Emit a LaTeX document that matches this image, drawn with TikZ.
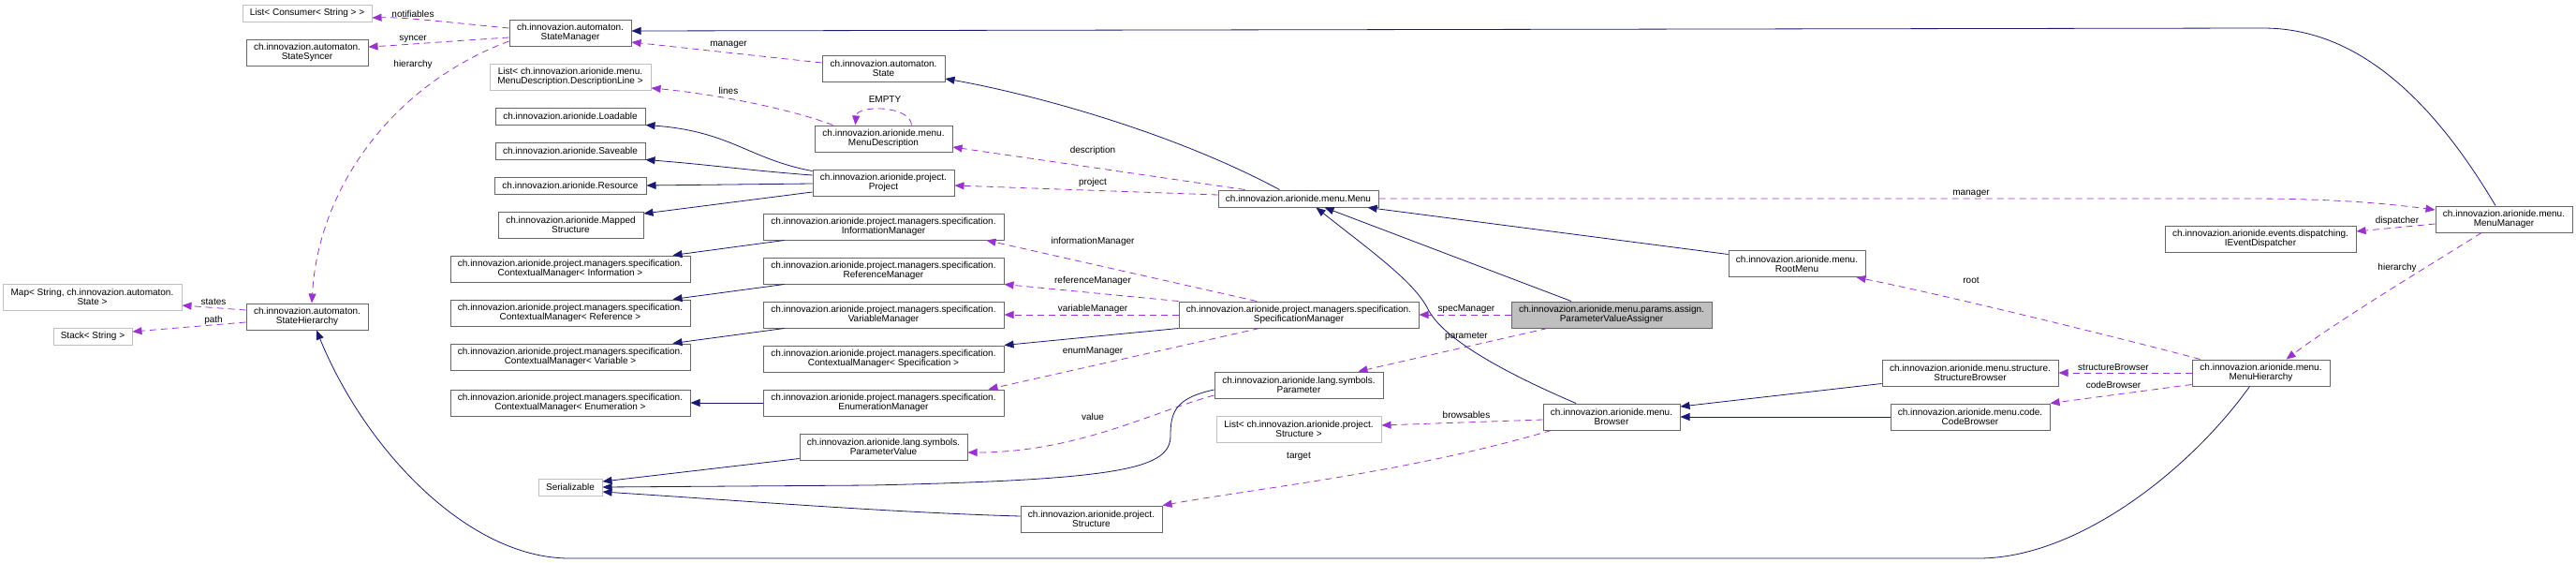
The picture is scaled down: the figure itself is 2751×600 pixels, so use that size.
\documentclass[tikz,border=0pt]{standalone}
\usepackage{fontspec}
\setmainfont{Liberation Sans}
\usetikzlibrary{arrows.meta,calc}
\definecolor{dxnavy}{HTML}{191970}
\definecolor{dxpurple}{HTML}{9A32CD}
\definecolor{dxborder}{HTML}{666666}
\definecolor{dxlight}{HTML}{BFBFBF}
\begin{document}
\begin{tikzpicture}[x=1pt,y=-1pt,
  cls/.style={draw=dxborder, line width=1pt, fill=white, inner sep=0pt, align=center, font=\fontsize{10}{10}\selectfont},
  ext/.style={cls, draw=dxlight},
  focus/.style={cls, fill=dxlight},
  inh/.style={draw=dxnavy, line width=0.8pt, -{Triangle[length=10pt,width=8pt]}},
  use/.style={draw=dxpurple, line width=0.8pt, dash pattern=on 7pt off 5pt, -{Triangle[length=10pt,width=8pt]}},
  lbl/.style={inner sep=0pt, font=\fontsize{10}{10}\selectfont}]
\fill[white] (0,0) rectangle (2751,600);
\useasboundingbox (0,0) rectangle (2751,600);

% ---------- nodes ----------
\node[ext, minimum width=138, minimum height=18] (lcons) at (328,14) {List< Consumer< String > >};
\node[cls, minimum width=130, minimum height=28] (syncer) at (328,56) {ch.innovazion.automaton.\\StateSyncer};
\node[cls, minimum width=130, minimum height=28] (smgr) at (609,35) {ch.innovazion.automaton.\\StateManager};
\node[cls, minimum width=131, minimum height=28] (state) at (943.5,73) {ch.innovazion.automaton.\\State};
\node[ext, minimum width=191, minimum height=28] (map) at (98.5,317) {Map< String, ch.innovazion.automaton.\\State >};
\node[ext, minimum width=84, minimum height=18] (stack) at (99,359) {Stack< String >};
\node[cls, minimum width=130, minimum height=28] (shier) at (328,338) {ch.innovazion.automaton.\\StateHierarchy};
\node[ext, minimum width=172, minimum height=28] (ldesc) at (609,82) {List< ch.innovazion.arionide.menu.\\MenuDescription.DescriptionLine >};
\node[cls, minimum width=160, minimum height=18] (load) at (609,124) {ch.innovazion.arionide.Loadable};
\node[cls, minimum width=160, minimum height=18] (save) at (609,161) {ch.innovazion.arionide.Saveable};
\node[cls, minimum width=162, minimum height=18] (res) at (609,198) {ch.innovazion.arionide.Resource};
\node[cls, minimum width=155, minimum height=28] (mapped) at (609.5,240) {ch.innovazion.arionide.Mapped\\Structure};
\node[cls, minimum width=256, minimum height=28] (cmi) at (609,287) {ch.innovazion.arionide.project.managers.specification.\\ContextualManager< Information >};
\node[cls, minimum width=256, minimum height=28] (cmr) at (609,334) {ch.innovazion.arionide.project.managers.specification.\\ContextualManager< Reference >};
\node[cls, minimum width=256, minimum height=28] (cmv) at (609,381) {ch.innovazion.arionide.project.managers.specification.\\ContextualManager< Variable >};
\node[cls, minimum width=256, minimum height=28] (cme) at (609,430) {ch.innovazion.arionide.project.managers.specification.\\ContextualManager< Enumeration >};
\node[cls, minimum width=147, minimum height=28] (mdesc) at (943.5,148) {ch.innovazion.arionide.menu.\\MenuDescription};
\node[cls, minimum width=151, minimum height=28] (proj) at (943.5,195) {ch.innovazion.arionide.project.\\Project};
\node[cls, minimum width=257, minimum height=28] (im) at (943.5,242) {ch.innovazion.arionide.project.managers.specification.\\InformationManager};
\node[cls, minimum width=257, minimum height=28] (rm) at (943.5,289) {ch.innovazion.arionide.project.managers.specification.\\ReferenceManager};
\node[cls, minimum width=257, minimum height=28] (vm) at (943.5,336) {ch.innovazion.arionide.project.managers.specification.\\VariableManager};
\node[cls, minimum width=257, minimum height=28] (cms) at (943.5,383) {ch.innovazion.arionide.project.managers.specification.\\ContextualManager< Specification >};
\node[cls, minimum width=257, minimum height=28] (em) at (943.5,430) {ch.innovazion.arionide.project.managers.specification.\\EnumerationManager};
\node[cls, minimum width=179, minimum height=28] (pval) at (943.5,477) {ch.innovazion.arionide.lang.symbols.\\ParameterValue};
\node[ext, minimum width=68, minimum height=18] (ser) at (609,520) {Serializable};
\node[cls, minimum width=171, minimum height=18] (menu) at (1386.5,212) {ch.innovazion.arionide.menu.Menu};
\node[cls, minimum width=256, minimum height=28] (specm) at (1387,336) {ch.innovazion.arionide.project.managers.specification.\\SpecificationManager};
\node[cls, minimum width=180, minimum height=28] (param) at (1387,411) {ch.innovazion.arionide.lang.symbols.\\Parameter};
\node[ext, minimum width=176, minimum height=28] (lstruct) at (1387,458) {List< ch.innovazion.arionide.project.\\Structure >};
\node[cls, minimum width=151, minimum height=28] (struct) at (1165.5,554) {ch.innovazion.arionide.project.\\Structure};
\node[focus, minimum width=214, minimum height=28] (pva) at (1721,336) {ch.innovazion.arionide.menu.params.assign.\\ParameterValueAssigner};
\node[cls, minimum width=146, minimum height=28] (browser) at (1721,445) {ch.innovazion.arionide.menu.\\Browser};
\node[cls, minimum width=146, minimum height=28] (root) at (1919,281.5) {ch.innovazion.arionide.menu.\\RootMenu};
\node[cls, minimum width=188, minimum height=28] (sb) at (2104,398) {ch.innovazion.arionide.menu.structure.\\StructureBrowser};
\node[cls, minimum width=170, minimum height=28] (cb) at (2104,445) {ch.innovazion.arionide.menu.code.\\CodeBrowser};
\node[cls, minimum width=146, minimum height=28] (mm) at (2674,234) {ch.innovazion.arionide.menu.\\MenuManager};
\node[cls, minimum width=204, minimum height=28] (ied) at (2414,255) {ch.innovazion.arionide.events.dispatching.\\IEventDispatcher};
\node[cls, minimum width=147, minimum height=28] (mh) at (2414.5,398) {ch.innovazion.arionide.menu.\\MenuHierarchy};

% ---------- edges ----------
\draw[use] ($(smgr.west)+(0,-5)$) .. controls (480,24) and (430,18) .. ($(lcons.east)+(0,5)$);
\draw[use] ($(smgr.west)+(0,5)$) .. controls (480,44) and (430,48) .. ($(syncer.east)+(0,-6)$);
\draw[use] ($(smgr.west)+(0,9)$) .. controls (420,90) and (340,200) .. ($(shier.north)+(5,0)$);
\draw[use] ($(shier.west)+(0,-7)$) -- ($(map.east)+(0,9)$);
\draw[use] ($(shier.west)+(0,6)$) -- ($(stack.east)+(0,-5)$);
\draw[inh] ($(mh.south)+(-12,0)$) .. controls (2340,500) and (2220,596) .. (2113,596) -- (608,596) .. controls (500,596) and (390,480) .. ($(shier.south)+(10,0)$);
\draw[inh] ($(mm.north)+(-9,0)$) .. controls (2600,110) and (2520,30) .. (2417,30) -- ($(smgr.east)+(0,-2)$);
\draw[use] ($(state.west)+(0,-6)$) -- ($(smgr.east)+(0,10)$);
\draw[inh] ($(menu.north)+(-20,0)$) .. controls (1250,140) and (1100,100) .. ($(state.east)+(0,11)$);
\draw[use] ($(mdesc.north west)+(20,0)$) .. controls (840,115) and (760,100) .. ($(ldesc.east)+(0,12)$);
\draw[use] ($(mdesc.north)+(30,0)$) .. controls (972,112) and (915,112) .. ($(mdesc.north)+(-30,0)$);
\draw[use] ($(menu.north west)+(29,0)$) -- ($(mdesc.east)+(0,9)$);
\draw[use] ($(menu.west)+(0,-4)$) -- ($(proj.east)+(0,3)$);
\draw[inh] ($(proj.north west)+(0,2)$) .. controls (800,170) and (780,140) .. (load.south east);
\draw[inh] ($(proj.west)+(0,-8)$) .. controls (800,182) and (760,176) .. (save.south east);
\draw[inh] ($(proj.west)+(0,1)$) -- (res.east);
\draw[inh] ($(proj.west)+(0,10)$) -- ($(mapped.east)+(0,-12)$);
\draw[inh] ($(im.south west)+(23,0)$) -- ($(cmi.north east)+(-19,0)$);
\draw[inh] ($(rm.south west)+(23,0)$) -- ($(cmr.north east)+(-19,0)$);
\draw[inh] ($(vm.south west)+(23,0)$) -- ($(cmv.north east)+(-19,0)$);
\draw[inh] (em.west) -- (cme.east);
\draw[use] ($(specm.north)+(-45,0)$) -- ($(im.south east)+(-19,0)$);
\draw[use] (specm.north west) -- (rm.south east);
\draw[use] (specm.west) -- (vm.east);
\draw[inh] (specm.south west) -- (cms.north east);
\draw[use] ($(specm.south)+(-42,0)$) -- ($(em.north east)+(-17,0)$);
\draw[use] ($(param.west)+(0,11)$) .. controls (1230,440) and (1150,483) .. ($(pval.east)+(0,6)$);
\draw[inh] ($(param.west)+(0,5)$) .. controls (1255,425) and (1250,440) .. (1250,465) .. controls (1250,500) and (1200,512) .. (930,518) -- (ser.east);
\draw[inh] ($(pval.south west)+(0,-2)$) -- ($(ser.east)+(0,-6)$);
\draw[inh] ($(struct.west)+(0,-3)$) .. controls (950,547) and (800,535) .. ($(ser.east)+(0,5)$);
\draw[use] ($(browser.south west)+(9,0)$) .. controls (1500,505) and (1350,520) .. (struct.north east);
\draw[use] ($(browser.west)+(0,3)$) -- ($(lstruct.east)+(0,-4)$);
\draw[inh] ($(browser.north)+(-38,0)$) .. controls (1600,395) and (1540,360) .. (1525,330) .. controls (1510,300) and (1460,265) .. ($(menu.south)+(19,0)$);
\draw[inh] ($(pva.north)+(-43,0)$) -- ($(menu.south)+(28,0)$);
\draw[use] (pva.west) -- (specm.east);
\draw[use] ($(pva.south west)+(39,0)$) -- ($(param.north east)+(-27,0)$);
\draw[inh] ($(root.west)+(0,-10)$) -- ($(menu.south east)+(-12,0)$);
\draw[use] (menu.east) -- (2400,212) .. controls (2480,212) and (2540,216) .. ($(mm.west)+(0,-10)$);
\draw[use] ($(mm.west)+(0,5)$) -- ($(ied.east)+(0,-8)$);
\draw[use] ($(mm.south)+(-24,0)$) .. controls (2600,280) and (2500,340) .. ($(mh.north)+(27,0)$);
\draw[use] ($(mh.north west)+(9,0)$) .. controls (2300,370) and (2100,320) .. ($(root.south east)+(-10,0)$);
\draw[use] (mh.west) -- (sb.east);
\draw[use] ($(mh.south west)+(0,-2)$) -- (cb.north east);
\draw[inh] ($(sb.south west)+(0,-3)$) -- ($(browser.east)+(0,-11)$);
\draw[inh] (cb.west) -- (browser.east);

% ---------- labels ----------
\node[lbl] (l1) at (441,15) {notifiables};
\node[lbl] (l2) at (441,42) {syncer};
\node[lbl] (l3) at (441,69) {hierarchy};
\node[lbl] (l4) at (228,322) {states};
\node[lbl] (l5) at (228,342) {path};
\node[lbl] (l6) at (778,48) {manager};
\node[lbl] (l7) at (778,97) {lines};
\node[lbl] (l8) at (945,106) {EMPTY};
\node[lbl] (l9) at (1167,161) {description};
\node[lbl] (l10) at (1167,195) {project};
\node[lbl] (l11) at (1167,258) {informationManager};
\node[lbl] (l12) at (1167,300) {referenceManager};
\node[lbl] (l13) at (1167,330) {variableManager};
\node[lbl] (l14) at (1167,375) {enumManager};
\node[lbl] (l15) at (1167,445) {value};
\node[lbl] (l16) at (1387,487) {target};
\node[lbl] (l17) at (1566,330) {specManager};
\node[lbl] (l18) at (1566,359) {parameter};
\node[lbl] (l19) at (1566,443) {browsables};
\node[lbl] (l20) at (2105,207) {manager};
\node[lbl] (l21) at (2105,299) {root};
\node[lbl] (l22) at (2257,392) {structureBrowser};
\node[lbl] (l23) at (2257,411) {codeBrowser};
\node[lbl] (l24) at (2560,236) {dispatcher};
\node[lbl] (l25) at (2560,286) {hierarchy};
\end{tikzpicture}
\end{document}
